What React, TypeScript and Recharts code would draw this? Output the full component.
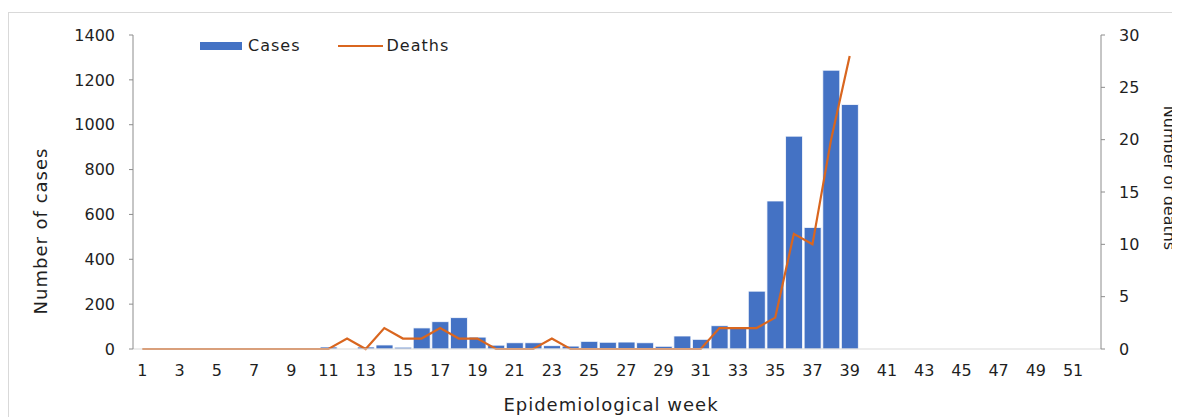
import React from 'react';
import { ComposedChart, Bar, Line, XAxis, YAxis, Label } from 'recharts';

const weeks: number[] = Array.from({ length: 52 }, (_, i) => i + 1);

const cases: (number | null)[] = [
  0, 0, 0, 0, 0, 0, 0, 0, 0, 0,
  9, 0, 9, 18, 8, 94, 122, 140, 53, 17,
  28, 28, 15, 13, 34, 30, 31, 28, 12, 58,
  43, 104, 95, 258, 660, 949, 542, 1243, 1090,
];

const deaths: (number | null)[] = [
  0, 0, 0, 0, 0, 0, 0, 0, 0, 0,
  0, 1, 0, 2, 1, 1, 2, 1, 1, 0,
  0, 0, 1, 0, 0, 0, 0, 0, 0, 0,
  0, 2, 2, 2, 3, 11, 10, 20, 28,
];

const leftTicks = [0, 200, 400, 600, 800, 1000, 1200, 1400];
const rightTicks = [0, 5, 10, 15, 20, 25, 30];

const data = weeks.map((w, i) => ({
  week: String(w),
  cases: i < cases.length ? cases[i] : null,
  deaths: i < deaths.length ? deaths[i] : null,
}));

const FONT = '"DejaVu Sans", Verdana, sans-serif';
const TEXT = '#1f1f1f';
const BAR = '#4472C4';
const LINE = '#D9661F';
const AXIS = '#8c8c8c';

export default function App() {
  return (
    <div style={{ position: 'relative', width: 1172, height: 409, fontFamily: FONT }}>
      <div
        style={{
          position: 'absolute',
          left: 0,
          top: 4,
          width: 1172,
          height: 405,
          borderTop: '1px solid #d9d9d9',
          borderLeft: '1px solid #d9d9d9',
          boxSizing: 'border-box',
        }}
      />
      <div
        style={{
          position: 'absolute',
          left: 192,
          top: 28,
          display: 'flex',
          alignItems: 'center',
          fontSize: 16,
          letterSpacing: 1,
          color: TEXT,
          zIndex: 2,
        }}
      >
        <div style={{ width: 42, height: 8, background: BAR, marginRight: 6 }} />
        <span>Cases</span>
        <div style={{ width: 45, height: 2, background: LINE, marginLeft: 37, marginRight: 4 }} />
        <span>Deaths</span>
      </div>
      <ComposedChart
        width={1172}
        height={409}
        data={data}
        margin={{ top: 27, right: 0, bottom: 0, left: 0 }}
        barCategoryGap={1}
        style={{ position: 'absolute', left: 0, top: 0 }}
      >
        <XAxis
          dataKey="week"
          interval={1}
          tickLine={false}
          axisLine={{ stroke: '#d9d9d9' }}
          tick={{ fill: TEXT, fontSize: 16, fontFamily: FONT }}
          tickMargin={10}
          height={68}
        >
          <Label
            content={() => (
              <text x={603} y={396} textAnchor="middle" dominantBaseline="central" fill={TEXT} fontSize={18} letterSpacing={1} fontFamily={FONT}>
                Epidemiological week
              </text>
            )}
          />
        </XAxis>
        <YAxis
          yAxisId="left"
          domain={[0, 1400]}
          ticks={leftTicks}
          width={125}
          tickSize={4}
          tickLine={{ stroke: AXIS }}
          axisLine={{ stroke: AXIS }}
          tick={{ fill: TEXT, fontSize: 16, fontFamily: FONT }}
          tickMargin={14}
        >
          <Label
            content={() => (
              <text
                x={32}
                y={223}
                textAnchor="middle"
                dominantBaseline="central"
                fill={TEXT}
                fontSize={18}
                letterSpacing={1}
                fontFamily={FONT}
                transform="rotate(-90 32 223)"
              >
                Number of cases
              </text>
            )}
          />
        </YAxis>
        <YAxis
          yAxisId="right"
          orientation="right"
          domain={[0, 30]}
          ticks={rightTicks}
          width={79}
          tickSize={4}
          tickLine={{ stroke: AXIS }}
          axisLine={{ stroke: AXIS }}
          tick={{ fill: TEXT, fontSize: 16, fontFamily: FONT }}
          tickMargin={14}
        >
          <Label
            content={() => (
              <text
                x={1161}
                y={170}
                textAnchor="middle"
                dominantBaseline="central"
                fill={TEXT}
                fontSize={16}
                fontFamily={FONT}
                transform="rotate(90 1161 170)"
              >
                Number of deaths
              </text>
            )}
          />
        </YAxis>
        <Bar
          yAxisId="left"
          dataKey="cases"
          fill={BAR}
          stroke="#ffffff"
          strokeWidth={0.8}
          isAnimationActive={false}
        />
        <Line
          yAxisId="right"
          dataKey="deaths"
          stroke={LINE}
          strokeWidth={2.2}
          dot={false}
          activeDot={false}
          type="linear"
          connectNulls={false}
          isAnimationActive={false}
        />
      </ComposedChart>
    </div>
  );
}
